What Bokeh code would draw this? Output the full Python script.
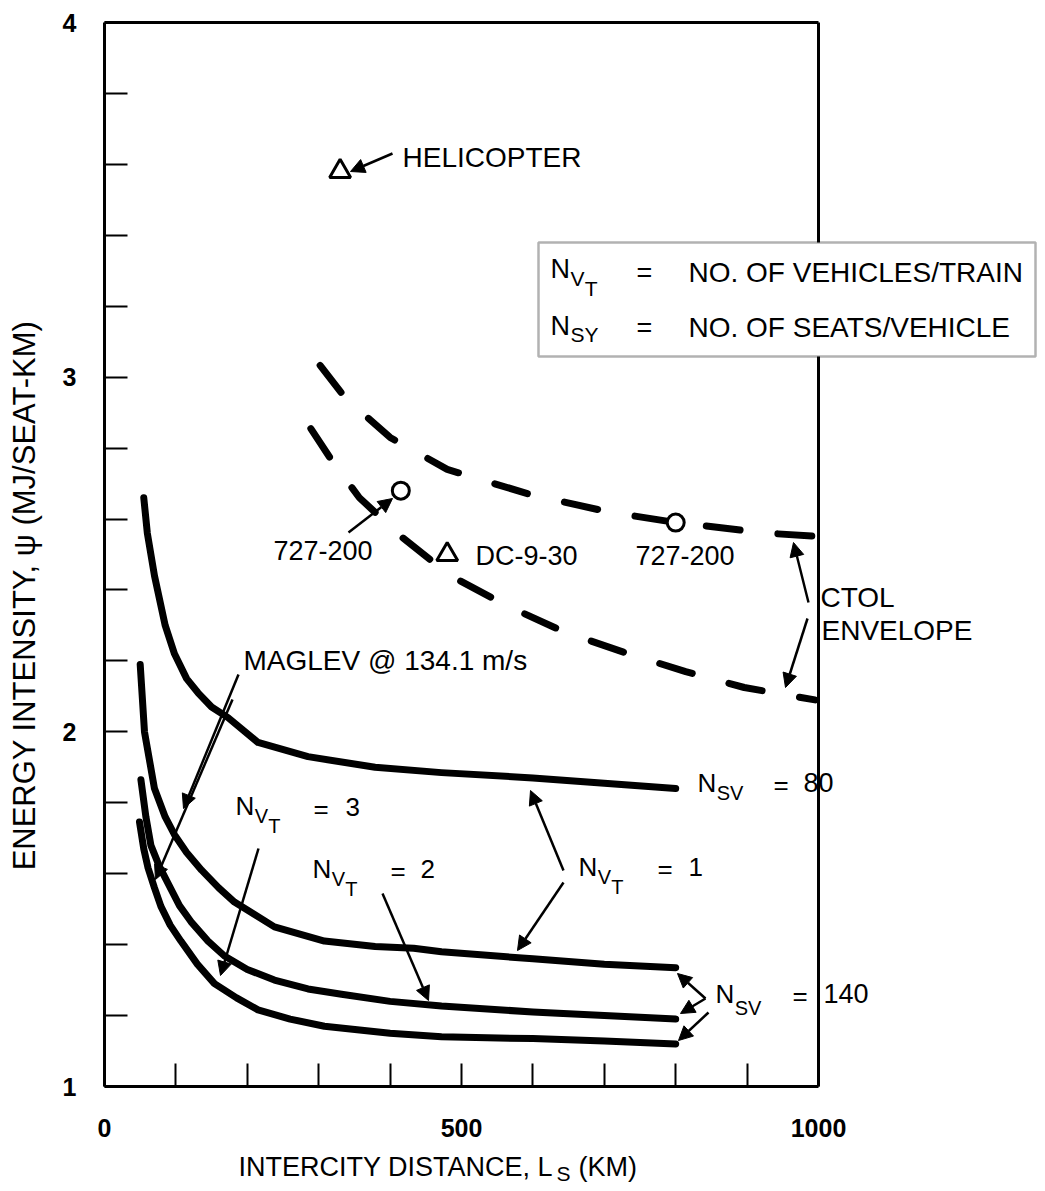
import math
from bokeh.plotting import figure
from bokeh.models import Range1d, FixedTicker, Label, Arrow, NormalHead, BoxAnnotation
from bokeh.embed import file_html
from bokeh.resources import INLINE

# ---------------- data ----------------
dist_nvt1_nsv80 = [55, 60, 70, 85, 98, 115, 131, 150, 173, 215, 285, 379, 472, 600, 700, 800]
psi_nvt1_nsv80 = [2.66, 2.56, 2.44, 2.30, 2.22, 2.15, 2.11, 2.07, 2.04, 1.97, 1.93, 1.90, 1.885, 1.87, 1.855, 1.84]

dist_nvt1_nsv140 = [50, 56, 70, 85, 98, 115, 136, 160, 182, 238, 308, 379, 433, 472, 600, 700, 800]
psi_nvt1_nsv140 = [2.19, 2.00, 1.84, 1.76, 1.71, 1.66, 1.61, 1.56, 1.52, 1.45, 1.41, 1.395, 1.39, 1.38, 1.36, 1.345, 1.335]

dist_nvt2_nsv140 = [51, 58, 65, 77, 89, 105, 121, 145, 168, 200, 238, 285, 332, 400, 472, 600, 700, 800]
psi_nvt2_nsv140 = [1.865, 1.76, 1.68, 1.62, 1.573, 1.51, 1.465, 1.41, 1.368, 1.33, 1.30, 1.275, 1.26, 1.24, 1.227, 1.21, 1.20, 1.19]

dist_nvt3_nsv140 = [49, 55, 61, 70, 79, 92, 107, 130, 154, 185, 215, 260, 308, 400, 472, 600, 700, 800]
psi_nvt3_nsv140 = [1.746, 1.67, 1.616, 1.56, 1.508, 1.455, 1.41, 1.345, 1.29, 1.25, 1.216, 1.19, 1.17, 1.15, 1.14, 1.135, 1.128, 1.12]

dist_ctol_upper = [302, 338, 400, 480, 595, 706, 801, 929, 1005]
psi_ctol_upper = [3.033, 2.94, 2.83, 2.74, 2.67, 2.62, 2.59, 2.56, 2.55]

dist_ctol_lower = [289, 320, 357, 417, 485, 563, 646, 734, 814, 896, 995]
psi_ctol_lower = [2.855, 2.76, 2.66, 2.548, 2.44, 2.356, 2.28, 2.22, 2.17, 2.125, 2.09]

tri_names = ["HELICOPTER", "DC-9-30"]
tri_dist = [330, 480]
tri_psi = [3.58, 2.50]

circ_names = ["727-200", "727-200"]
circ_dist = [415, 800]
circ_psi = [2.68, 2.59]

x_ticks = [0, 500, 1000]
x_minor = [100, 200, 300, 400, 600, 700, 800, 900]
y_ticks = [1, 2, 3, 4]
y_minor = [1.2, 1.4, 1.6, 1.8, 2.2, 2.4, 2.6, 2.8, 3.2, 3.4, 3.6, 3.8]

FONT = "Liberation Sans"

# ---------------- geometry ----------------
W, H = 1040, 1186
X0_PX, X1000_PX = 104, 818     # where 0 km and 1000 km fall
Y4_PX, Y1_PX = 22, 1086        # where psi = 4 and psi = 1 fall
px_per_km = (X1000_PX - X0_PX) / 1000.0
px_per_psi = (Y1_PX - Y4_PX) / 3.0


def L(px):
    return (px - X0_PX) / px_per_km


def P(py):
    return 4 - (py - Y4_PX) / px_per_psi


p = figure(width=W, height=H, x_range=Range1d(L(0), L(W)), y_range=Range1d(P(H), P(0)),
           output_backend="svg", toolbar_location=None,
           min_border_left=0, min_border_right=0, min_border_top=0, min_border_bottom=0)
p.grid.visible = False
p.outline_line_color = None
p.background_fill_color = "white"
p.border_fill_color = "white"

for ax, ticks, minor, loc in ((p.xaxis[0], x_ticks, x_minor, y_ticks[0]),
                              (p.yaxis[0], y_ticks, y_minor, x_ticks[0])):
    ax.ticker = FixedTicker(ticks=ticks, minor_ticks=minor)
    ax.bounds = (ticks[0], ticks[-1])
    ax.fixed_location = loc
    ax.axis_line_width = 3
    ax.axis_line_color = "black"
    ax.major_tick_in = 23
    ax.major_tick_out = 0
    ax.minor_tick_in = 23
    ax.minor_tick_out = 0
    ax.major_tick_line_width = 2
    ax.minor_tick_line_width = 2
    ax.major_tick_line_color = "black"
    ax.minor_tick_line_color = "black"
    ax.major_label_text_font = FONT
    ax.major_label_text_font_style = "bold"
    ax.major_label_text_font_size = "25px"
    ax.major_label_text_color = "black"

p.xaxis.major_label_standoff = 32
p.yaxis.major_label_standoff = 28

# top and right borders of the chart box
p.segment(x0=[x_ticks[0], x_ticks[-1]], y0=[y_ticks[-1], y_ticks[0]],
          x1=[x_ticks[-1], x_ticks[-1]], y1=[y_ticks[-1], y_ticks[-1]],
          line_width=3, line_color="black")

# solid MAGLEV curves
for xs, ys in ((dist_nvt1_nsv80, psi_nvt1_nsv80), (dist_nvt1_nsv140, psi_nvt1_nsv140),
               (dist_nvt2_nsv140, psi_nvt2_nsv140), (dist_nvt3_nsv140, psi_nvt3_nsv140)):
    p.line(xs, ys, line_width=7, line_color="black", line_cap="round", line_join="round")

# dashed CTOL envelope
for xs, ys in ((dist_ctol_upper, psi_ctol_upper), (dist_ctol_lower, psi_ctol_lower)):
    p.line(xs, ys, line_width=7, line_color="black", line_dash="34 38", line_cap="round")

p.scatter(tri_dist, tri_psi, marker="triangle", size=21, fill_color="white",
          line_color="black", line_width=3)
p.scatter(circ_dist, circ_psi, marker="circle", size=17, fill_color="white",
          line_color="black", line_width=3)


def text(xp, yp, s, size=28, align="left", style="normal", angle=0.0):
    p.add_layout(Label(x=L(xp), y=P(yp), text=s, text_font=FONT, text_font_size=f"{size}px",
                       text_align=align, text_baseline="middle", text_font_style=style,
                       text_color="black", angle=angle))


def arrow(x0, y0, x1, y1):
    p.add_layout(Arrow(end=NormalHead(size=14, fill_color="black", line_color="black", line_width=1),
                       x_start=L(x0), y_start=P(y0), x_end=L(x1), y_end=P(y1),
                       line_width=2.5, line_color="black"))


def n_vt(xp, yp, size=27):
    sub = int(round(size * 0.78))
    text(xp, yp, "N", size)
    text(xp + size * 0.74, yp + 10, "V", sub)
    text(xp + size * 0.74 + sub * 0.68, yp + 20, "T", sub)


def n_sv(xp, yp, size=27, sub_text="SV", drop=11):
    sub = int(round(size * 0.78))
    text(xp, yp, "N", size)
    text(xp + size * 0.74, yp + drop, sub_text, sub)


# legend box
p.add_layout(BoxAnnotation(left=L(538), right=L(1035), top=P(242), bottom=P(356),
                           fill_color="white", fill_alpha=1.0, line_color="black", line_width=2.5))
n_vt(550, 268)
text(636, 272, "=", 27)
text(688, 272, "NO. OF VEHICLES/TRAIN", 28)
n_sv(550, 325, sub_text="SY", drop=9)
text(636, 327, "=", 27)
text(688, 327, "NO. OF SEATS/VEHICLE", 28)

# annotations
text(402, 157, "HELICOPTER")
arrow(392, 153, 350, 171)

text(273, 550, "727-200", 27)
arrow(348, 532, 392, 498)
text(475, 555, "DC-9-30", 27)
text(635, 555, "727-200", 27)

text(820, 597, "CTOL")
text(821, 630, "ENVELOPE")
arrow(808, 602, 793, 542)
arrow(807, 618, 785, 687)

text(243, 660, "MAGLEV @ 134.1 m/s")
arrow(238, 674, 183, 808)
arrow(232, 699, 155, 879)

n_vt(235, 805, 26)
text(313, 808, "=", 26)
text(345, 806, "3", 26)
arrow(258, 848, 220, 975)

n_vt(312, 868, 26)
text(390, 870, "=", 26)
text(420, 868, "2", 26)
arrow(382, 893, 428, 1000)

n_vt(578, 866, 26)
text(657, 868, "=", 26)
text(688, 866, "1", 26)
arrow(563, 870, 530, 790)
arrow(563, 882, 517, 950)

n_sv(697, 782, 26, drop=10)
text(773, 784, "=", 26)
text(803, 782, "80", 27)

n_sv(715, 993, 26, drop=14)
text(792, 995, "=", 26)
text(823, 993, "140", 27)
arrow(705, 998, 677, 973)
arrow(705, 998, 680, 1013)
arrow(708, 1012, 678, 1040)

# axis titles
text(24, 595, "ENERGY INTENSITY, \u03c8 (MJ/SEAT-KM)", 31, align="center", angle=math.pi / 2)
text(238, 1166, "INTERCITY DISTANCE, L", 27)
text(556, 1173, "S", 21)
text(578, 1166, "(KM)", 27)

open("out.html", "w").write(file_html(p, INLINE))
